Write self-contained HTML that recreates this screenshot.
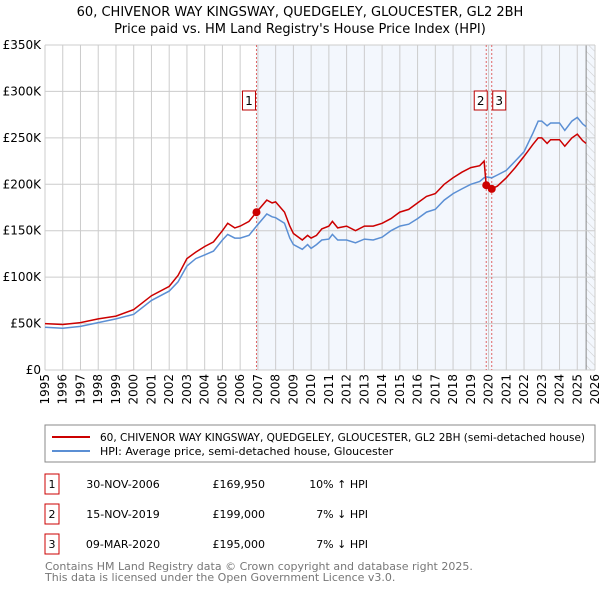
<!DOCTYPE html>
<html><head><meta charset="utf-8"><style>
body{margin:0;background:#fff;font-family:"Liberation Sans","DejaVu Sans",sans-serif;}
svg text{font-family:"DejaVu Sans","Liberation Sans",sans-serif;}
</style></head><body>
<svg width="600" height="590" xmlns="http://www.w3.org/2000/svg">
<defs><pattern id="hatch" width="6" height="6" patternUnits="userSpaceOnUse" patternTransform="rotate(-45)"><line x1="0" y1="0" x2="0" y2="6" stroke="#ccc" stroke-width="1"/></pattern></defs>
<text x="300" y="16" text-anchor="middle" font-size="13">60, CHIVENOR WAY KINGSWAY, QUEDGELEY, GLOUCESTER, GL2 2BH</text>
<text x="300" y="33" text-anchor="middle" font-size="13">Price paid vs. HM Land Registry's House Price Index (HPI)</text>
<g id="plot"></g>
<g id="legend">
<rect x="45" y="425" width="550" height="37" fill="#fff" stroke="#888"/>
<line x1="52" y1="437" x2="90" y2="437" stroke="#cc0000" stroke-width="2"/>
<text x="100" y="441" font-size="11" textLength="485" lengthAdjust="spacingAndGlyphs">60, CHIVENOR WAY KINGSWAY, QUEDGELEY, GLOUCESTER, GL2 2BH (semi-detached house)</text>
<line x1="52" y1="451" x2="90" y2="451" stroke="#5b8fd4" stroke-width="2"/>
<text x="100" y="455" font-size="11">HPI: Average price, semi-detached house, Gloucester</text>
</g>
<g id="table" font-size="11"></g>
<text x="45" y="570" font-size="11" fill="#777">Contains HM Land Registry data © Crown copyright and database right 2025.</text>
<text x="45" y="581" font-size="11" fill="#777">This data is licensed under the Open Government Licence v3.0.</text>
</svg>
<script>
const redX=[1995,1996,1997,1998,1999,2000,2001,2002,2002.5,2003,2003.5,2004,2004.5,2005,2005.3,2005.7,2006,2006.5,2006.92,2007.5,2007.8,2008,2008.5,2008.8,2009,2009.5,2009.8,2010,2010.3,2010.6,2011,2011.2,2011.5,2012,2012.5,2013,2013.5,2014,2014.5,2015,2015.5,2016,2016.5,2017,2017.5,2018,2018.5,2019,2019.5,2019.75,2019.87,2020.18,2020.5,2021,2021.5,2022,2022.5,2022.8,2023,2023.3,2023.5,2024,2024.3,2024.7,2025,2025.3,2025.5];
const redY=[50,49,51,55,58,65,80,90,102,120,127,133,138,150,158,153,155,160,170,183,180,181,170,155,147,140,145,142,145,152,155,160,153,155,150,155,155,158,163,170,173,180,187,190,200,207,213,218,220,225,199,195,198,207,218,230,243,250,250,244,248,248,241,250,254,247,244];
const hpiY=[46,45,47,51,55,60,75,85,95,112,120,124,128,140,146,142,142,145,155,168,165,164,158,142,135,130,135,131,135,140,141,146,140,140,137,141,140,143,150,155,157,163,170,173,183,190,195,200,203,207,208,207,210,215,225,235,255,268,268,263,266,266,258,268,272,265,262];
const yTicks=[0,50,100,150,200,250,300,350];
const yLabels=["£0","£50K","£100K","£150K","£200K","£250K","£300K","£350K"];
const sales=[{n:"1",x:2006.92,v:169.95,d:"30-NOV-2006",p:"£169,950",h:"10% ↑ HPI"},{n:"2",x:2019.87,v:199,d:"15-NOV-2019",p:"£199,000",h:"7% ↓ HPI"},{n:"3",x:2020.18,v:195,d:"09-MAR-2020",p:"£195,000",h:"7% ↓ HPI"}];
const L=45,R=595,T=45,B=370,x0=1995,x1=2026;
const sx=v=>L+(v-x0)/(x1-x0)*(R-L);
const sy=v=>B-v/350*(B-T);
const NS="http://www.w3.org/2000/svg";
const g=document.getElementById('plot');
function mk(t,a,p){const e=document.createElementNS(NS,t);for(const k in a)e.setAttribute(k,a[k]);(p||g).appendChild(e);return e;}
let e;
e=mk('rect',{x:sx(2006.92),y:T,width:R-sx(2006.92),height:B-T,fill:'#eef3fc',opacity:0.7});


e=mk('rect',{x:sx(2025.5),y:T,width:R-sx(2025.5),height:B-T,fill:'url(#hatch)'});


mk('line',{x1:sx(2025.5),y1:T,x2:sx(2025.5),y2:B,stroke:'#888'});
for(let yr=x0;yr<=x1;yr++){
 e=mk('line',{x1:sx(yr),y1:T,x2:sx(yr),y2:B,stroke:'#ccc'});
 
 
 e=mk('text',{x:0,y:0,'font-size':12,'text-anchor':'end',transform:`translate(${sx(yr)+4},${B+4}) rotate(-90)`});
 e.textContent=yr;
 
 
}
yTicks.forEach((t,i)=>{
 e=mk('line',{x1:L,y1:sy(t),x2:R,y2:sy(t),stroke:'#ccc'});
 
 
 e=mk('text',{x:L-4,y:sy(t)+4,'font-size':12,'text-anchor':'end'});
 e.textContent=yLabels[i];
 
 
});
sales.forEach(s=>{
 e=mk('line',{x1:sx(s.x),y1:T,x2:sx(s.x),y2:B,stroke:'#e06666','stroke-dasharray':'2,2'});
 
 
});
const path=(ys)=>redX.map((x,i)=>(i?'L':'M')+sx(x).toFixed(1)+','+sy(ys[i]).toFixed(1)).join('');
e=mk('path',{d:path(hpiY),fill:'none',stroke:'#5b8fd4','stroke-width':1.5});


e=mk('path',{d:path(redY),fill:'none',stroke:'#cc0000','stroke-width':1.5});


sales.forEach((s,i)=>{
 e=mk('circle',{cx:sx(s.x),cy:sy(s.v),r:4,fill:'#cc0000'});
 
 
 const bx=sx(s.x)-(i==1?12:i==2?-1:14);
 e=mk('rect',{x:bx,y:91,width:13,height:19,fill:'#fff',stroke:'#b00'});
 
 
 e=mk('text',{x:bx+6.5,y:105,'font-size':12,'text-anchor':'middle'});
 e.textContent=s.n;
 
 
});
const tb=document.getElementById('table');
sales.forEach((s,i)=>{
 const y=483+i*30;
 e=mk('rect',{x:45,y:y-9,width:14,height:20,fill:'#fff',stroke:'#c00'},tb);
 
 
 e=mk('text',{x:52,y:y+5,'text-anchor':'middle'},tb);e.textContent=s.n;
 
 
 e=mk('text',{x:123,y:y+5,'text-anchor':'middle'},tb);e.textContent=s.d;
 
 
 e=mk('text',{x:265,y:y+5,'text-anchor':'end'},tb);e.textContent=s.p;
 
 
 e=mk('text',{x:368,y:y+5,'text-anchor':'end'},tb);e.textContent=s.h;
 
 
});
</script>
</body></html>
